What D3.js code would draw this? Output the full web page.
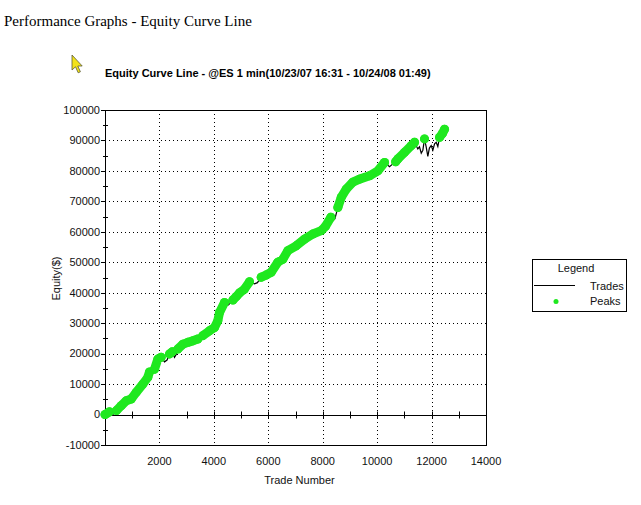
<!DOCTYPE html>
<html>
<head>
<meta charset="utf-8">
<script src="https://cdn.jsdelivr.net/npm/d3@7"></script>
<style>
  body { margin: 0; background: #fff; }
  svg { display: block; }
  .tick-label { font-family: "Liberation Sans", Arial, sans-serif; font-size: 11px; fill: #111; }
</style>
</head>
<body>
<div id="chart"></div>
<script>
// trade number / equity
const tradeNum = [0, 165, 290, 420, 595, 780, 963, 1146, 1390, 1573, 1635, 1697, 1760, 1820, 1941, 2064,
  2187, 2280, 2370, 2470, 2554, 2620, 2676, 2860, 3045, 3227, 3410, 3450, 3500, 3594, 3840, 4024,
  4146, 4208, 4391, 4514, 4600, 4700, 4820, 4950, 5126, 5310, 5494, 5600, 5740, 5920, 6108, 6350,
  6534, 6718, 7025, 7332, 7637, 7945, 8100, 8300, 8372, 8450, 8556, 8680, 8864, 9107, 9353, 9720,
  10025, 10272, 10455, 10577, 10680, 10760, 11006, 11253, 11374, 11495, 11556, 11620, 11680, 11741,
  11800, 11863, 11920, 11986, 12047, 12110, 12170, 12230, 12293, 12400, 12477];
const equity = [0, 900, 0, 1300, 2900, 4500, 5100, 7300, 10000, 12200, 14000, 13000, 13600, 14900, 18200, 18800,
  17300, 17900, 19900, 20600, 18800, 19800, 21500, 23100, 23700, 24200, 24800, 24100, 24600, 25900, 27500, 28600,
  30800, 33500, 36800, 35900, 36500, 37600, 38700, 40000, 41200, 43600, 42900, 43300, 45100, 45800, 46700, 50000,
  51000, 53800, 55400, 57600, 59300, 60400, 61800, 64800, 63600, 64300, 68000, 71300, 74000, 76300, 77300, 78400,
  80000, 82800, 81400, 82300, 83000, 83900, 86100, 88300, 89400, 87200, 87900, 85800, 86800, 90500,
  88000, 84800, 87500, 88300, 86800, 88900, 89400, 88000, 91000, 92300, 93700];

const xTicks = [2000, 4000, 6000, 8000, 10000, 12000, 14000];
const yTicks = [-10000, 0, 10000, 20000, 30000, 40000, 50000, 60000, 70000, 80000, 90000, 100000];

const W = 641, H = 505;
const margin = {top: 110, left: 105};
const width = 381, height = 335;

const svg = d3.select("#chart").append("svg")
    .attr("width", W)
    .attr("height", H);

// page heading
svg.append("text")
    .attr("x", 4)
    .attr("y", 26)
    .style("font-family", "'Liberation Serif', 'Times New Roman', serif")
    .style("font-size", "15px")
    .text("Performance Graphs - Equity Curve Line");

// mouse pointer in the screenshot
svg.append("path")
    .attr("d", "M72,55 L72,70 L75.5,66.8 L78.2,72.8 L80.4,71.8 L77.8,66 L82.2,66 Z")
    .attr("fill", "#f2e21a")
    .attr("stroke", "#5a5a3a")
    .attr("stroke-width", 0.8);

// chart title
svg.append("text")
    .attr("x", 105)
    .attr("y", 77)
    .style("font-family", "'Liberation Sans', Arial, sans-serif")
    .style("font-size", "11px")
    .style("font-weight", "bold")
    .text("Equity Curve Line - @ES 1 min(10/23/07 16:31 - 10/24/08 01:49)");

const g = svg.append("g")
    .attr("transform", `translate(${margin.left}, ${margin.top})`);

const x = d3.scaleLinear().domain([0, 14000]).range([0, width]);
const y = d3.scaleLinear().domain([-10000, 100000]).range([height, 0]);

// dotted grid
g.selectAll(".vgrid")
    .data(xTicks.filter(d => d < 14000))
    .enter().append("line")
    .attr("x1", d => Math.round(x(d)) + 0.5).attr("x2", d => Math.round(x(d)) + 0.5)
    .attr("y1", 0).attr("y2", height)
    .attr("stroke", "#000")
    .attr("stroke-dasharray", "1,3");

g.selectAll(".hgrid")
    .data(yTicks.filter(d => d > 0 && d < 100000))
    .enter().append("line")
    .attr("x1", 0).attr("x2", width)
    .attr("y1", d => Math.round(y(d)) + 0.5).attr("y2", d => Math.round(y(d)) + 0.5)
    .attr("stroke", "#000")
    .attr("stroke-dasharray", "1,3");

// frame
g.append("rect")
    .attr("x", 0.5).attr("y", 0.5)
    .attr("width", width).attr("height", height)
    .attr("fill", "none")
    .attr("stroke", "#000");

// zero line with ticks every 1000
const y0 = Math.round(y(0)) + 0.5;
g.append("line")
    .attr("x1", 0).attr("x2", width)
    .attr("y1", y0).attr("y2", y0)
    .attr("stroke", "#000");

g.selectAll(".xtick")
    .data(d3.range(1000, 14000, 1000))
    .enter().append("line")
    .attr("x1", d => Math.round(x(d)) + 0.5).attr("x2", d => Math.round(x(d)) + 0.5)
    .attr("y1", y0 - 4).attr("y2", y0 + 3)
    .attr("stroke", "#000");

// y ticks
g.selectAll(".ytick")
    .data(yTicks)
    .enter().append("line")
    .attr("x1", -4).attr("x2", 0)
    .attr("y1", d => Math.round(y(d)) + 0.5).attr("y2", d => Math.round(y(d)) + 0.5)
    .attr("stroke", "#000");

g.selectAll(".ytick-minor")
    .data(d3.range(-5000, 100000, 10000))
    .enter().append("line")
    .attr("x1", -2).attr("x2", 3)
    .attr("y1", d => Math.round(y(d)) + 0.5).attr("y2", d => Math.round(y(d)) + 0.5)
    .attr("stroke", "#000");

g.selectAll(".ylabel")
    .data(yTicks)
    .enter().append("text")
    .attr("class", "tick-label")
    .attr("x", -5)
    .attr("y", d => y(d))
    .attr("dy", "0.35em")
    .attr("text-anchor", "end")
    .text(d => d);

g.selectAll(".xlabel")
    .data(xTicks)
    .enter().append("text")
    .attr("class", "tick-label")
    .attr("x", d => x(d))
    .attr("y", height + 20)
    .attr("text-anchor", "middle")
    .text(d => d);

// axis titles
g.append("text")
    .attr("class", "tick-label")
    .attr("transform", `translate(-45, ${height / 2 + 1}) rotate(-90)`)
    .attr("text-anchor", "middle")
    .text("Equity($)");

g.append("text")
    .attr("class", "tick-label")
    .attr("x", width / 2 + 4)
    .attr("y", height + 39)
    .attr("text-anchor", "middle")
    .text("Trade Number");

// data
const data = tradeNum.map((t, i) => ({t: t, v: equity[i]}));
let runMax = -Infinity;
data.forEach(d => {
    d.peak = d.v >= runMax;
    if (d.peak) runMax = d.v;
});

const line = d3.line()
    .x(d => x(d.t))
    .y(d => y(d.v));

g.append("path")
    .datum(data)
    .attr("fill", "none")
    .attr("stroke", "#000")
    .attr("stroke-width", 1.2)
    .attr("d", line);

const green = "#1fe81f";

g.append("path")
    .datum(data)
    .attr("fill", "none")
    .attr("stroke", green)
    .attr("stroke-width", 9)
    .attr("stroke-linecap", "round")
    .attr("stroke-linejoin", "round")
    .attr("d", line.defined(d => d.peak));

g.selectAll(".peak")
    .data(data.filter(d => d.peak))
    .enter().append("circle")
    .attr("cx", d => x(d.t))
    .attr("cy", d => y(d.v))
    .attr("r", 4.5)
    .attr("fill", green);

// legend
const lg = svg.append("g")
    .attr("transform", "translate(532, 259)");

lg.append("rect")
    .attr("x", 0.5).attr("y", 0.5)
    .attr("width", 94).attr("height", 52)
    .attr("fill", "#fff")
    .attr("stroke", "#000");

lg.append("text")
    .attr("class", "tick-label")
    .attr("x", 44)
    .attr("y", 13)
    .attr("text-anchor", "middle")
    .text("Legend");

lg.append("line")
    .attr("x1", 2).attr("x2", 43)
    .attr("y1", 26.5).attr("y2", 26.5)
    .attr("stroke", "#000");

lg.append("text")
    .attr("class", "tick-label")
    .attr("x", 58)
    .attr("y", 31)
    .text("Trades");

lg.append("circle")
    .attr("cx", 24)
    .attr("cy", 42.5)
    .attr("r", 2.5)
    .attr("fill", green);

lg.append("text")
    .attr("class", "tick-label")
    .attr("x", 58)
    .attr("y", 46)
    .text("Peaks");
</script>
</body>
</html>
